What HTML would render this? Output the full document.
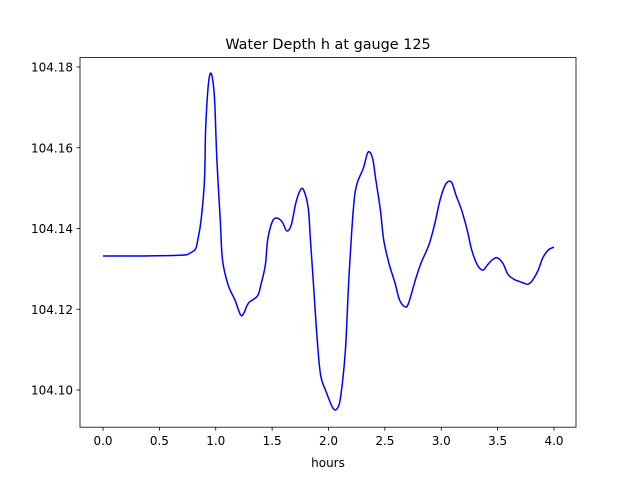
<!DOCTYPE html>
<html><head><meta charset="utf-8"><style>
body{margin:0;background:#fff;}
svg text{font-family:"DejaVu Sans","Liberation Sans",sans-serif;fill:#000;}
</style></head><body>
<svg id="chart" width="640" height="480" viewBox="0 0 640 480">
<rect width="640" height="480" fill="#fff"/>
<text x="328" y="49" font-size="14.4" text-anchor="middle">Water Depth h at gauge 125</text>
<g id="xticks"></g>
<g id="yticks"></g>
<path id="line" fill="none" stroke="#0000ff" stroke-width="1.5" stroke-linejoin="round"/>
<rect x="80" y="57.6" width="496" height="369.6" fill="none" stroke="#000" stroke-width="0.8"/>
<text x="328" y="467" font-size="12" text-anchor="middle">hours</text>
</svg>
<script>
const hours=[0,0.35,0.70,0.77,0.82,0.84,0.87,0.90,0.91,0.93,0.95,0.97,0.99,1.01,1.04,1.06,1.11,1.17,1.22,1.25,1.29,1.37,1.40,1.44,1.46,1.50,1.54,1.59,1.63,1.67,1.71,1.75,1.78,1.82,1.84,1.87,1.90,1.93,1.98,2.04,2.08,2.11,2.15,2.18,2.22,2.25,2.31,2.35,2.39,2.42,2.46,2.49,2.54,2.59,2.63,2.68,2.71,2.77,2.82,2.89,2.94,2.99,3.04,3.09,3.13,3.18,3.23,3.27,3.32,3.37,3.41,3.46,3.50,3.55,3.59,3.64,3.68,3.73,3.77,3.81,3.86,3.90,3.95,4.00];
const depth=[104.1332,104.1332,104.1334,104.1339,104.1349,104.1371,104.1421,104.1520,104.1644,104.1743,104.1783,104.1773,104.1718,104.1570,104.1421,104.1322,104.1260,104.1223,104.1186,104.1191,104.1215,104.1233,104.1260,104.1310,104.1371,104.1416,104.1426,104.1416,104.1394,104.1409,104.1463,104.1495,104.1495,104.1451,104.1371,104.1248,104.1124,104.1037,104.0995,104.0955,104.0955,104.0988,104.1099,104.1272,104.1446,104.1508,104.1550,104.1589,104.1575,104.1520,104.1446,104.1371,104.1310,104.1265,104.1223,104.1206,104.1215,104.1272,104.1314,104.1359,104.1409,104.1471,104.1510,104.1515,104.1483,104.1446,104.1396,104.1347,104.1310,104.1297,104.1310,104.1324,104.1327,104.1312,104.1287,104.1275,104.1270,104.1265,104.1262,104.1272,104.1297,104.1327,104.1347,104.1354];
const xTickVals=[0,0.5,1,1.5,2,2.5,3,3.5,4];
const xTickLabels=["0.0","0.5","1.0","1.5","2.0","2.5","3.0","3.5","4.0"];
const yTickVals=[104.10,104.12,104.14,104.16,104.18];
const yTickLabels=["104.10","104.12","104.14","104.16","104.18"];
const X=h=>103+h*112.75;
const Y=v=>67+(104.18-v)*4037.5;
const NS="http://www.w3.org/2000/svg";
const xg=document.getElementById('xticks'),yg=document.getElementById('yticks');
xTickVals.forEach((t,i)=>{
 const l=document.createElementNS(NS,'line');
 
 
 l.setAttribute('x1',X(t));l.setAttribute('x2',X(t));l.setAttribute('y1',427.2);l.setAttribute('y2',430.7);l.setAttribute('stroke','#000');l.setAttribute('stroke-width','0.8');
 xg.appendChild(l);
 const tx=document.createElementNS(NS,'text');
 
 
 tx.setAttribute('x',X(t));tx.setAttribute('y',445);tx.setAttribute('font-size','12');tx.setAttribute('text-anchor','middle');
 tx.textContent=xTickLabels[i];xg.appendChild(tx);
});
yTickVals.forEach((t,i)=>{
 const l=document.createElementNS(NS,'line');
 
 
 l.setAttribute('x1',76.5);l.setAttribute('x2',80);l.setAttribute('y1',Y(t));l.setAttribute('y2',Y(t));l.setAttribute('stroke','#000');l.setAttribute('stroke-width','0.8');
 yg.appendChild(l);
 const tx=document.createElementNS(NS,'text');
 
 
 tx.setAttribute('x',73);tx.setAttribute('y',Y(t)+4.5);tx.setAttribute('font-size','12');tx.setAttribute('text-anchor','end');
 tx.textContent=yTickLabels[i];yg.appendChild(tx);
});
// Catmull-Rom smooth path
const pts=hours.map((h,i)=>[X(h),Y(depth[i])]);
let d='M'+pts[0][0]+','+pts[0][1];
for(let i=0;i<pts.length-1;i++){
 const p0=pts[Math.max(0,i-1)],p1=pts[i],p2=pts[i+1],p3=pts[Math.min(pts.length-1,i+2)];
 const c1=[p1[0]+(p2[0]-p0[0])/6,p1[1]+(p2[1]-p0[1])/6];
 const c2=[p2[0]-(p3[0]-p1[0])/6,p2[1]-(p3[1]-p1[1])/6];
 d+=' C'+c1[0]+','+c1[1]+' '+c2[0]+','+c2[1]+' '+p2[0]+','+p2[1];
}
document.getElementById('line').setAttribute('d',d);
</script>
</body></html>
